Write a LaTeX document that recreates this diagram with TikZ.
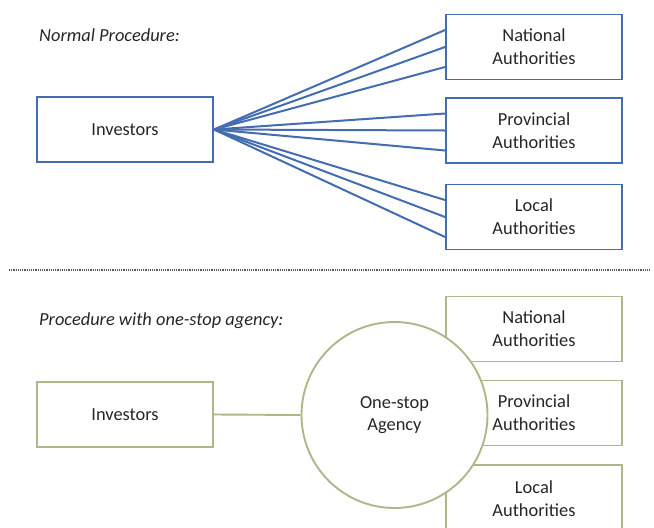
\documentclass[tikz,border=0pt]{standalone}
\usepackage{fontspec}
\setmainfont{Carlito}
\usepackage{tikz}
\usetikzlibrary{shapes,positioning,calc}

\definecolor{boxblue}{RGB}{68,108,176}
\definecolor{boxolive}{RGB}{176,182,138}
\definecolor{txtgray}{RGB}{38,38,38}

\begin{document}
\begin{tikzpicture}[x=1pt,y=-1pt,
    every node/.style={text=txtgray, font=\fontsize{18.4}{22.7}\selectfont},
    bluebox/.style={draw=boxblue, line width=1.9pt, minimum width=176pt, minimum height=65pt, inner sep=0pt, align=center},
    olivebox/.style={draw=boxolive, line width=1.9pt, fill=white, minimum width=176pt, minimum height=65pt, inner sep=0pt, align=center},
    bluelink/.style={draw=boxblue, line width=2pt},
    olivelink/.style={draw=boxolive, line width=1.9pt},
    heading/.style={font=\fontsize{18.4}{22}\selectfont\itshape, anchor=base west, inner sep=0pt}]
        \useasboundingbox (0,0) rectangle (654,528);
        % normal procedure
        \node[heading] (head1) at (39,41) {Normal Procedure:};
        \node[bluebox] (inv1) at (125,129.5) {Investors};
        \node[bluebox] (nat1) at (534,47) {National\\Authorities};
        \node[bluebox] (prov1) at (534,130.5) {Provincial\\Authorities};
        \node[bluebox] (loc1) at (534,217) {Local\\Authorities};
        \foreach \b in {nat1,prov1,loc1}
            \foreach \d in {-17,0,20}
                \draw[bluelink] (inv1.east) -- ($(\b.west)+(0,\d)$);

        % separator
        \coordinate (sepl) at (9,270);
        \coordinate (sepr) at (650,270);
        \draw[gray!70!black, line width=1.3pt, dash pattern=on 1.1pt off 1.1pt] (sepl) -- (sepr);

        % procedure with one-stop agency
        \node[heading] (head2) at (39,325) {Procedure with one-stop agency:};
        \node[olivebox] (inv2) at (125,414.5) {Investors};
        \node[olivebox] (nat2) at (534,329) {National\\Authorities};
        \node[olivebox] (prov2) at (534,413) {Provincial\\Authorities};
        \node[olivebox, minimum height=68pt] (loc2) at (534,499) {Local\\Authorities};
        \node[circle, draw=boxolive, line width=1.9pt, fill=white, minimum size=186pt, inner sep=0pt, align=center] (osa) at (394.5,415) {One-stop\\Agency};
        \draw[olivelink] (inv2.east) -- (osa.west);
    \end{tikzpicture}
\end{document}
